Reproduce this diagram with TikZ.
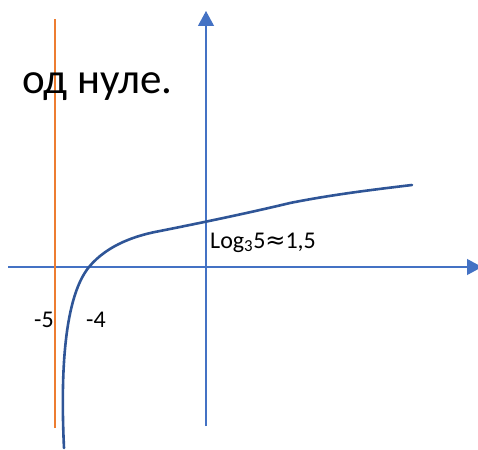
\documentclass[tikz,border=0pt]{standalone}
\usepackage{fontspec}
\setmainfont{Carlito}
\newfontfamily\symfont{DejaVu Sans}
\usetikzlibrary{arrows.meta}
\definecolor{axisblue}{HTML}{4472C4}
\definecolor{curveblue}{HTML}{2F5597}
\definecolor{asyorange}{HTML}{ED7D31}
\tikzset{
  axisline/.style={draw=axisblue, line width=1.1pt, -{Triangle[length=15pt,width=16pt]}},
  asymptote/.style={draw=asyorange, line width=1.3pt},
  graphline/.style={draw=curveblue, line width=2.6pt, line cap=round},
  lbl/.style={anchor=base west, inner sep=0pt, font=\fontsize{24}{28}\selectfont},
  bigtext/.style={anchor=base west, inner sep=0pt, font=\fontsize{43}{50}\selectfont}
}
\begin{document}
\begin{tikzpicture}[x=1pt,y=-1pt]
\useasboundingbox (0,0) rectangle (478,449);
\fill[white] (0,0) rectangle (478,449);
% axes
\coordinate (yb) at (206,426);
\coordinate (yt) at (206,11);
\coordinate (xl) at (8,267);
\coordinate (xr) at (482,267);
\draw[axisline] (yb) -- (yt);
\draw[axisline] (xl) -- (xr);
% asymptote
\coordinate (ab) at (55,428);
\coordinate (at) at (55,19);
\draw[asymptote] (ab) -- (at);
% curve
\coordinate (c0) at (64,448);
\coordinate (c1) at (89,267);
\coordinate (c2) at (160,231);
\coordinate (c3) at (290,203);
\coordinate (c4) at (412,185);
\draw[graphline] (c0) .. controls (61,385) and (62,300) .. (c1)
  .. controls (108,244) and (138,235) .. (c2)
  .. controls (185,226) and (240,215) .. (c3)
  .. controls (330,195) and (370,190) .. (c4);
% texts
\node[bigtext] (title) at (22,94) {од нуле.};
\node[lbl] (m5) at (34,327) {-5};
\node[lbl] (m4) at (86,327) {-4};
\node[lbl] (lg) at (210,248) {Log\textsubscript{3}5{\symfont ≈}1,5};
\end{tikzpicture}
\end{document}
